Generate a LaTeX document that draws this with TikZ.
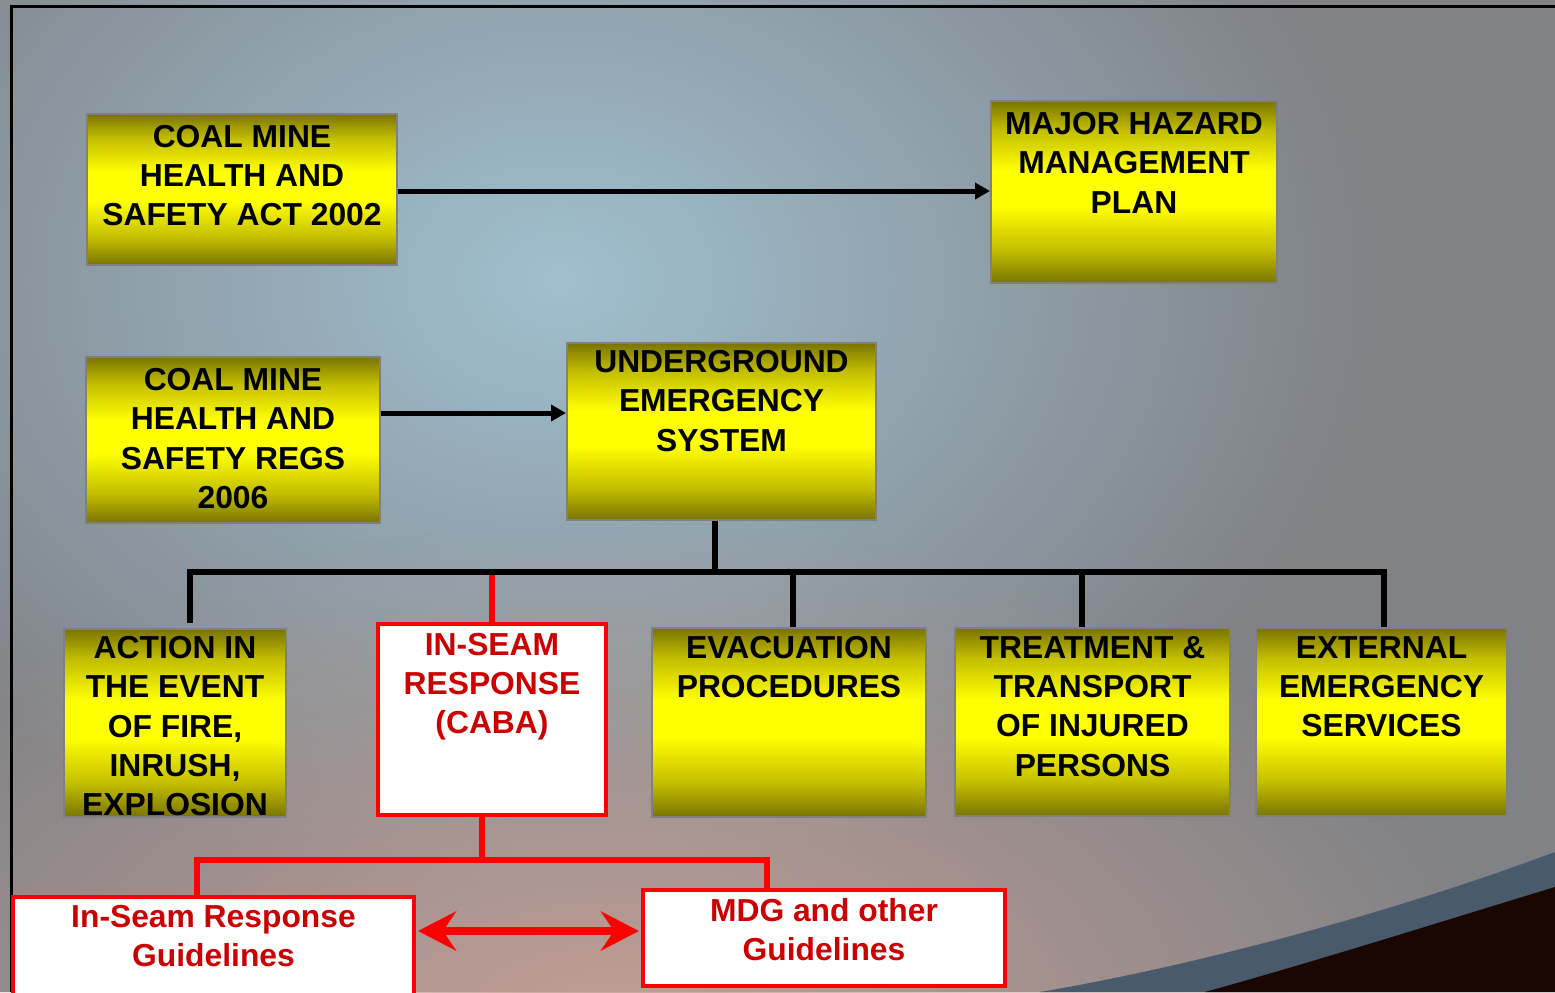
\documentclass[tikz,border=0pt]{standalone}
\usepackage{fontspec}
\setmainfont{Liberation Sans}
\usetikzlibrary{arrows.meta,fit,calc,fadings}

\definecolor{olv}{RGB}{122,116,0}
\definecolor{olv2}{RGB}{195,190,0}
\definecolor{ylw}{RGB}{255,255,0}
\definecolor{bgc}{RGB}{128,130,134}
\definecolor{lblue}{RGB}{160,192,208}
\definecolor{pinkc}{RGB}{196,160,150}
\definecolor{redtxt}{RGB}{204,0,0}
\definecolor{bandc}{RGB}{72,90,108}
\definecolor{darkc}{RGB}{26,8,0}
\definecolor{boxedge}{RGB}{128,128,128}

\pgfdeclareverticalshading{ybar}{100bp}{color(0bp)=(olv); color(25bp)=(olv); color(34bp)=(olv2); color(46bp)=(ylw); color(56bp)=(ylw); color(67bp)=(olv2); color(75bp)=(olv); color(100bp)=(olv)}

\tikzfading[name=glowfade, inner color=transparent!0, outer color=transparent!100]

\tikzset{
  ybox/.style={draw=boxedge, line width=1pt, shade, shading=ybar, inner sep=0pt},
  rbox/.style={draw=red, line width=2pt, fill=white, inner sep=0pt},
  btxt/.style={font=\bfseries\fontsize{15.9}{19.6}\selectfont, align=center, inner sep=0pt, anchor=north},
  rtxt/.style={btxt, text=redtxt},
  conn/.style={line width=2.6pt},
  rconn/.style={line width=2.6pt, red},
  blkarrow/.style={line width=2.5pt, -{Triangle[length=7.5pt,width=8pt]}},
  redarrow/.style={line width=3.6pt, red, {Stealth[length=19pt,width=19.5pt,inset=6.5pt]}-{Stealth[length=19pt,width=19.5pt,inset=6.5pt]}}
}

\begin{document}
\begin{tikzpicture}[x=0.5pt,y=-0.5pt]
\useasboundingbox (0,0) rectangle (1555,992);
\clip (0,0) rectangle (1555,992);

% background
\fill[bgc] (0,0) rectangle (1555,992);
\fill[lblue, path fading=glowfade] (560,280) ellipse [x radius=820, y radius=620];
\fill[pinkc, path fading=glowfade] (620,1040) ellipse [x radius=900, y radius=520];

% dark curve bottom right
\fill[bandc] (1040,992) .. controls (1200,965) and (1400,910) .. (1555,852) -- (1555,992) -- cycle;
\fill[darkc] (1205,992) .. controls (1320,960) and (1440,922) .. (1555,887) -- (1555,992) -- cycle;

% frame
\draw[line width=1.5pt] (11,992) -- (11,6) -- (1555,6);

% boxes
\node[ybox, fit={(87,114) (397,265)}] (b1) {};
\node[ybox, fit={(991,101) (1277,283)}] (b2) {};
\node[ybox, fit={(86,357) (380,523)}] (b3) {};
\node[ybox, fit={(567,343) (876,520)}] (b4) {};
\node[ybox, fit={(64,629) (286,817)}] (b5) {};
\node[rbox, fit={(378,624) (606,815)}] (b6) {};
\node[ybox, fit={(652,628) (926,817)}] (b7) {};
\node[ybox, fit={(955,628) (1230,816)}] (b8) {};
\node[ybox, fit={(1256,628) (1507,816)}] (b9) {};
\node[rbox, fit={(13,897) (414,1010)}] (b10) {};
\node[rbox, fit={(643,890) (1005,986)}] (b11) {};

% texts
\node[btxt] (b1t) at ($(b1.north)+(0,11.5)$) {COAL MINE\\HEALTH AND\\SAFETY ACT 2002};
\node[btxt] (b2t) at ($(b2.north)+(0,12)$) {MAJOR HAZARD\\MANAGEMENT\\PLAN};
\node[btxt] (b3t) at ($(b3.north)+(0,12)$) {COAL MINE\\HEALTH AND\\SAFETY REGS\\2006};
\node[btxt] (b4t) at ($(b4.north)+(0,8)$) {UNDERGROUND\\EMERGENCY\\SYSTEM};
\node[btxt] (b5t) at ($(b5.north)+(0,8)$) {ACTION IN\\THE EVENT\\OF FIRE,\\INRUSH,\\EXPLOSION};
\node[rtxt] (b6t) at ($(b6.north)+(0,10.5)$) {IN-SEAM\\RESPONSE\\(CABA)};
\node[btxt] (b7t) at ($(b7.north)+(0,9)$) {EVACUATION\\PROCEDURES};
\node[btxt] (b8t) at ($(b8.north)+(0,9)$) {TREATMENT \&\\TRANSPORT\\OF INJURED\\PERSONS};
\node[btxt] (b9t) at ($(b9.north)+(0,9)$) {EXTERNAL\\EMERGENCY\\SERVICES};
\node[rtxt] (b10t) at ($(b10.north)+(0,10)$) {In-Seam Response\\Guidelines};
\node[rtxt] (b11t) at ($(b11.north)+(0,10)$) {MDG and other\\Guidelines};

% top arrows
\draw[blkarrow] ([yshift=-0.75pt]b1.east) -- ([yshift=-0.75pt]b1.east -| b2.west);
\draw[blkarrow] ([yshift=13.5pt]b3.east) -- ([yshift=13.5pt]b3.east -| b4.west);

% black tree
\coordinate (busL) at (190,572);
\coordinate (busR) at (1384,572);
\coordinate (stem) at (715,572);
\coordinate (d6) at (492,572);
\coordinate (d7) at (793,572);
\coordinate (d8) at (1082,572);
\draw[conn] (b4.south -| stem) -- (stem);
\draw[conn, line cap=rect] (busL) -- (busR);
\draw[conn] (busL) -- ([yshift=2.5pt]b5.north -| busL);
\draw[conn] (d7) -- (b7.north -| d7);
\draw[conn] (d8) -- (b8.north -| d8);
\draw[conn] (busR) -- (b9.north -| busR);
\draw[rconn] ([yshift=-1.3pt]d6) -- (b6.north -| d6);

% red tree
\coordinate (rs) at (482,860);
\coordinate (rL) at (197,860);
\coordinate (rR) at (767,860);
\draw[rconn] (b6.south -| rs) -- (rs);
\draw[rconn, line cap=rect] (rL) -- (rR);
\draw[rconn] (rL) -- (b10.north -| rL);
\draw[rconn] (rR) -- (b11.north -| rR);

% double arrow
\coordinate (da) at (500,931);
\draw[redarrow] ([xshift=1pt]b10.east |- da) -- ([xshift=-1pt]b11.west |- da);
\end{tikzpicture}
\end{document}
